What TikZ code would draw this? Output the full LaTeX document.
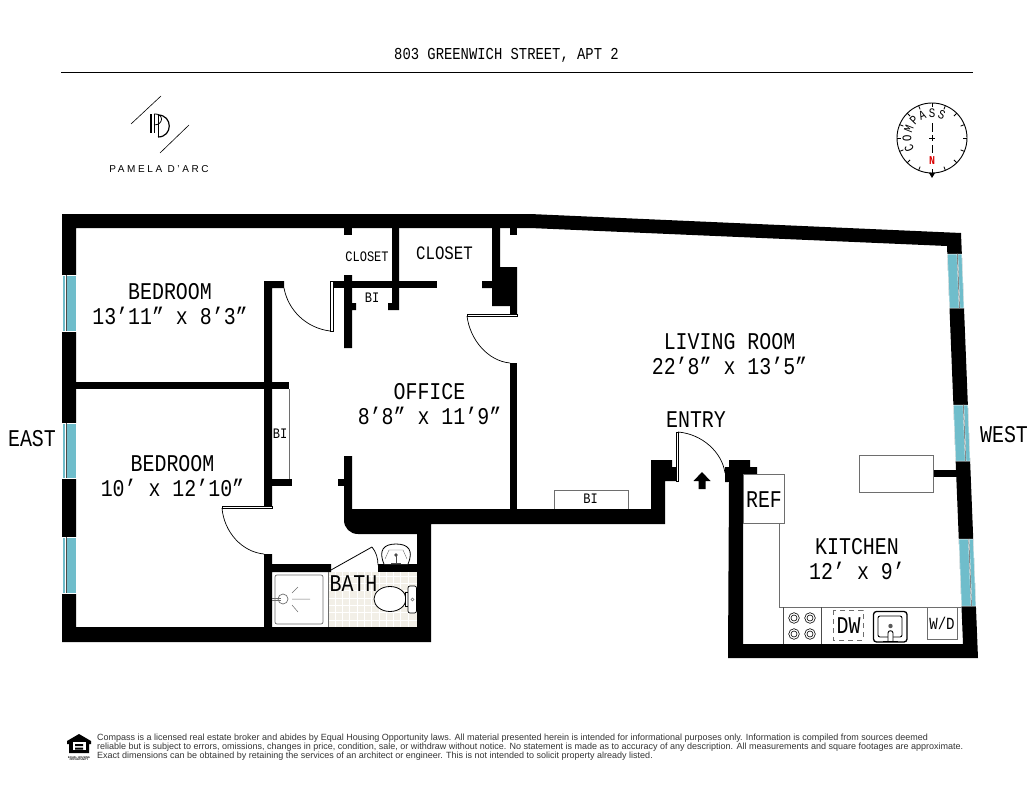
\documentclass[tikz,border=0pt]{standalone}
\usepackage{fontspec}
\setmainfont{Liberation Sans}
\newfontfamily\planfont[FakeStretch=.83]{Liberation Mono}
\newfontfamily\logofont[LetterSpace=26]{Liberation Sans}
\usetikzlibrary{positioning}
\definecolor{winblue}{HTML}{6FBDCB}
\definecolor{tilecream}{HTML}{F2EFE7}
\definecolor{fixgray}{HTML}{6E6E6E}

\begin{document}
\begin{tikzpicture}[x=1pt, y=-1pt, line join=miter,
    wall/.style={fill=black, draw=none},
    window/.style={fill=winblue, draw=white, line width=.5pt},
    pane/.style={draw=black!70, line width=.5pt, preaction={draw=white, line width=1.3pt}},
    fixture/.style={draw=fixgray, line width=.7pt},
    swing/.style={draw=black, line width=.7pt},
    leaf/.style={draw=black, fill=white, line width=.6pt},
    room/.style={font=\planfont\fontsize{24}{25}\selectfont, align=center, inner sep=0pt},
    tag/.style={font=\planfont\fontsize{14.5}{15}\selectfont, inner sep=0pt}]

  \useasboundingbox (0,0) rectangle (1034,800);

  % title and logo
  \node[font=\planfont\fontsize{16.7}{18}\selectfont, inner sep=0pt] (title) at (506.5,55) {803 GREENWICH STREET, APT 2};
  \coordinate (ruleL) at (61,72.5);
  \coordinate (ruleR) at (973,72.5);
  \draw[line width=.8pt] (ruleL) -- (ruleR);
  \draw[line width=.6pt] (131,124) -- (161,96);
  \draw[line width=.6pt] (160,153) -- (189,125);
  \draw[line width=1.3pt] (151,114) -- (151,133) (154.5,114) -- (154.5,133);
  \draw[line width=.8pt] (154,114) .. controls (164,113) and (164,125) .. (154,125);
  \draw[line width=1.2pt] (158,115) .. controls (173,115) and (173,137) .. (158,137);
  \draw[line width=1pt] (158,115) -- (158,137);
  \node[font=\logofont\fontsize{10}{10}\selectfont, inner sep=0pt] (logotext) at (159,169) {PAMELA D’ARC};

  % compass
  \draw[line width=.9pt] (932,138) circle (35);
  \foreach \ang in {0,22.5,...,337.5}
    \draw[line width=.8pt] ({932+35*cos(\ang)},{138+35*sin(\ang)}) -- ({932+31*cos(\ang)},{138+31*sin(\ang)});
  \fill (932,178) -- (929,173) -- (935,173) -- cycle;
  \draw[line width=.8pt] (932,123) -- (932,132) (932,145) -- (932,153) (929,138) -- (935,138) (932,135) -- (932,141);
  \node[font=\planfont\bfseries\fontsize{12}{12}\selectfont, text=red!85!black, inner sep=0pt] (north) at (932,161) {N};
  \foreach \ltr [count=\i from 0] in {C,O,M,P,A,S,S}
    \node[font=\planfont\fontsize{13}{13}\selectfont, inner sep=0pt, rotate={204-\i*22.8-90}]
      (cp\i) at ({932+25*cos(204-\i*22.8)},{138-25*sin(204-\i*22.8)}) {\ltr};

  % bath floor
  \fill[tilecream] (328,572) rectangle (417,627);
  \foreach \tx in {335,342.3,...,415} \draw[white, line width=.5pt] (\tx,572) -- (\tx,627);
  \foreach \ty in {576,583.3,...,626} \draw[white, line width=.5pt] (328,\ty) -- (417,\ty);

  % outer shell of the walls
  \fill[wall] (62,214) -- (530,214) -- (961,233) -- (978,658) -- (728,658) -- (729,482) -- (725,482)
    -- (725,467) -- (729,467) -- (729,460) -- (750,460) -- (750,467) -- (757,467) -- (757,474)
    -- (743,474) -- (743,644) -- (963,644) -- (947,246) -- (530,228) -- (76,228) -- (76,627)
    -- (417,627) -- (417,534) -- (358,534) .. controls (350,534) and (344,528) .. (344,520)
    -- (344,456) -- (352,456) -- (352,509) -- (651,509) -- (651,460) -- (672,460) -- (672,467)
    -- (677,467) -- (677,481) -- (665,481) -- (665,524) -- (431,524) -- (431,642) -- (62,642) -- cycle;

  % inner walls
  \fill[wall] (76,382) rectangle (272,389);
  \fill[wall] (264,281) -- (284,281) -- (284,288) -- (272,288) -- (272,508) -- (264,508) -- cycle;
  \fill[wall] (272,382) rectangle (289,389);
  \fill[wall] (272,479) rectangle (292,486);
  \fill[wall] (338,479) rectangle (344,486);
  \fill[wall] (264,554) -- (272,554) -- (272,564) -- (331,564) -- (331,572) -- (272,572) -- (272,627) -- (264,627) -- cycle;
  \fill[wall] (378,564) rectangle (417,572);
  \fill[wall] (344,228) rectangle (352,235);
  \fill[wall] (333,281) rectangle (437,288);
  \fill[wall] (344,275) -- (352,275) -- (352,303) -- (356,303) -- (356,310) -- (352,310) -- (352,348) -- (344,348) -- cycle;
  \fill[wall] (392,228) -- (399,228) -- (399,310) -- (388,310) -- (388,303) -- (392,303) -- cycle;
  \fill[wall] (492,228) -- (500,228) -- (500,267) -- (517,267) -- (517,314) -- (510,314) -- (510,306)
    -- (492,306) -- (492,288) -- (482,288) -- (482,281) -- (492,281) -- cycle;
  \fill[wall] (510,228) rectangle (517,235);
  \fill[wall] (510,363) rectangle (517,509);
  \fill[wall] (933,470) rectangle (957,477);

  % windows
  \foreach \ya/\yb in {275/331,423/478,537/593} {
    \draw[window] (62,\ya) rectangle (76,\yb);
    \draw[pane] (66,\ya) -- (66,\yb);
  }
  \foreach \ya/\yb in {254/308,405/461,539/606} {
    \draw[window] ({947+(\ya-246)*.0402},\ya) -- ({961+(\ya-233)*.04},\ya) -- ({961+(\yb-233)*.04},\yb) -- ({947+(\yb-246)*.0402},\yb) -- cycle;
    \draw[pane] ({957+(\ya-246)*.0402},\ya) -- ({957+(\yb-246)*.0402},\yb);
  }

  % doors
  \draw[leaf] (330,281) rectangle (333,331);
  \draw[swing] (284,288) .. controls (288,310) and (306,328) .. (330,331);
  \draw[leaf] (467,314) rectangle (517,316.5);
  \draw[swing] (467,316) .. controls (470,340) and (488,361) .. (510,363);
  \draw[leaf] (222,506) rectangle (272,508);
  \draw[swing] (222,508) .. controls (224,532) and (242,552) .. (264,554);
  \draw[leaf] (676,432) rectangle (678.5,481);
  \draw[swing] (678,432) .. controls (702,434) and (722,452) .. (725,473);
  \draw[line width=.8pt] (331,570) -- (372,547);
  \draw[swing] (372,547) .. controls (376,552) and (378,558) .. (378,565);
  \fill (702,472) -- (710.5,481) -- (705.5,481) -- (705.5,489) -- (698.5,489) -- (698.5,481) -- (693.5,481) -- cycle;

  % built-ins and kitchen
  \draw[fixture] (289,389) -- (289,479);
  \draw[fixture] (554,509) -- (554,490) -- (628,490) -- (628,509);
  \draw[fixture] (859,455) rectangle (933,492);
  \draw[fixture] (743,474) rectangle (784,523);
  \draw[fixture] (779,523) -- (779,607) -- (962,607);
  \draw[fixture, draw=black!70] (783,607) -- (783,644) (821,607) -- (821,644);
  \foreach \bx/\by in {794/618,810/618,794/634,810/634} {
    \draw[line width=.6pt] (\bx,\by) circle (5.3);
    \draw[line width=.6pt] (\bx,\by) circle (3);
  }
  \draw[fixture, dash pattern=on 5pt off 4pt] (833,610) rectangle (863,640);
  \draw[line width=1.3pt, rounded corners=3pt] (873.5,611.5) rectangle (907,642);
  \draw[line width=.9pt, rounded corners=2pt] (878,616) rectangle (902,637);
  \fill[black!65] (890.5,626) circle (2.2);
  \draw[line width=.9pt, fill=white] (888,641) -- (888,633) .. controls (888,630) and (893,630) .. (893,633) -- (893,641);
  \draw[line width=.9pt] (883,641) -- (898,641);
  \draw[fixture] (927,607) -- (927,639) -- (957,639) -- (957,607);

  % bath fixtures
  \draw[fixgray, line width=.6pt] (328,572) -- (328,627);
  \draw[fixture, rounded corners=2pt] (275,575) rectangle (323,624);
  \draw[fixture, fill=white] (272,598) -- (281,598) (272,600.5) -- (281,600.5);
  \draw[fixture] (283,599) circle (5);
  \draw[fixgray, line width=.5pt] (292,593) -- (298,587) (292,599) -- (310,599) (292,605) -- (298,612);
  \draw[black, line width=.8pt, fill=white] (390,599) ellipse (16 and 12.5);
  \draw[black, line width=.7pt, fill=white] (405,592) -- (408,592) -- (408,606) -- (405,606) -- cycle;
  \draw[black, line width=.7pt, fill=white, rounded corners=2pt] (408,586) rectangle (416.5,613);
  \draw[fixgray, line width=.4pt] (412.5,599.5) circle (1.5);
  \draw[black, line width=.8pt, fill=white] (384,564) .. controls (378,550) and (384,544) .. (396,544) .. controls (408,544) and (414,550) .. (408,564);
  \draw[fixgray, line width=.4pt] (385,559) -- (389,550) -- (403,550) -- (407,559);
  \fill[black!70] (396,555) circle (1.8);
  \draw[black!70, line width=.8pt] (396,555) -- (396,564) (391,563) -- (401,563);

  % room labels
  \node[room] (bedroomA) at (170,304.5) {BEDROOM\\13’11” x 8’3”};
  \node[room] (bedroomB) at (172.5,476.5) {BEDROOM\\10’ x 12’10”};
  \node[room] (office) at (429.5,404) {OFFICE\\8’8” x 11’9”};
  \node[room] (living) at (729.5,354) {LIVING ROOM\\22’8” x 13’5”};
  \node[room] (kitchen) at (857,559.5) {KITCHEN\\12’ x 9’};
  \node[room] (entry) at (696,419.5) {ENTRY};
  \node[room] (bath) at (353.5,583.5) {BATH};
  \node[room] (ref) at (764,500) {REF};
  \node[room] (east) at (32,438.5) {EAST};
  \node[room] (west) at (1004,434.5) {WEST};
  \node[tag] (closetA) at (367,256.5) {CLOSET};
  \node[tag, font=\planfont\fontsize{19}{20}\selectfont] (closetB) at (444.5,253.5) {CLOSET};
  \node[tag] (biA) at (372,297.5) {BI};
  \node[tag] (biB) at (280,433.5) {BI};
  \node[tag] (biC) at (590.5,499) {BI};
  \node[room] (dw) at (848.5,626) {DW};
  \node[tag, font=\planfont\fontsize{17}{18}\selectfont] (wd) at (942,623) {W/D};

  % footer
  \fill (79,734) -- (91,741) -- (91,744) -- (89,744) -- (89,753) -- (69,753) -- (69,744) -- (67,744) -- (67,741) -- cycle;
  \fill[white] (72.5,742) rectangle (85.5,750);
  \fill (75,744) rectangle (83,746) (75,747.5) rectangle (83,749.5);
  \node[font=\fontsize{2.6}{2.8}\selectfont, align=center, inner sep=0pt] (ehotext) at (79,758.5) {\textbf{EQUAL HOUSING}\\\textbf{OPPORTUNITY}};
  \node[font=\fontsize{9}{8.8}\selectfont, text=black!80, align=left, inner sep=0pt, anchor=north west] (legal) at (97,734) {Compass is a licensed real estate broker and abides by Equal Housing Opportunity laws. All material presented herein is intended for informational purposes only. Information is compiled from sources deemed\\reliable but is subject to errors, omissions, changes in price, condition, sale, or withdraw without notice. No statement is made as to accuracy of any description. All measurements and square footages are approximate.\\Exact dimensions can be obtained by retaining the services of an architect or engineer. This is not intended to solicit property already listed.};
\end{tikzpicture}
\end{document}
